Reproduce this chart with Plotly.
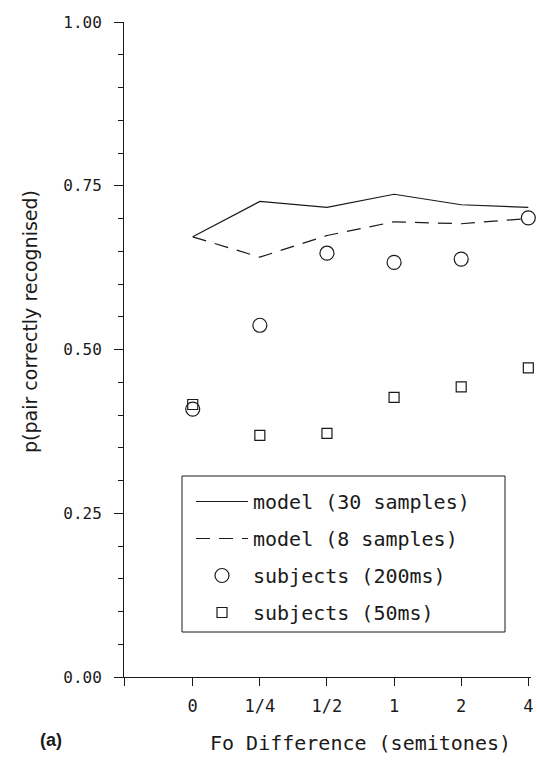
import plotly.graph_objects as go

categories = ["0", "1/4", "1/2", "1", "2", "4"]
model_30 = [0.672, 0.726, 0.717, 0.737, 0.721, 0.717]
model_8 = [0.672, 0.641, 0.674, 0.695, 0.692, 0.700]
subj_200 = [0.409, 0.537, 0.647, 0.633, 0.638, 0.701]
subj_50 = [0.416, 0.369, 0.372, 0.427, 0.443, 0.472]
yticks = [0.0, 0.25, 0.5, 0.75, 1.0]
ytick_labels = ["0.00", "0.25", "0.50", "0.75", "1.00"]

X_MIN, X_MAX = -1.024, 5.04
xpos = list(range(len(categories)))
FONT = "DejaVu Sans Mono"
TITLE_FONT = "DejaVu Sans"
INK = "#1a1a1a"

# plot-area geometry in pixels (figure coordinates)
L, R, T, B = 124, 6, 22, 98
W, H = 537, 775
PW, PH = W - L - R, H - T - B


def px(x):
    return (x - L) / PW


def py(y):
    return (H - B - y) / PH


fig = go.Figure()
fig.add_trace(go.Scatter(x=xpos, y=model_30, mode="lines", name="model (30 samples)",
                         line=dict(color=INK, width=1.2), legendgroup="a", cliponaxis=False))
fig.add_trace(go.Scatter(x=xpos, y=model_8, mode="lines", name="model (8 samples)",
                         line=dict(color=INK, width=1.2, dash="14px,9px"), legendgroup="b",
                         cliponaxis=False))
fig.add_trace(go.Scatter(x=xpos, y=subj_200, mode="markers", name="subjects (200ms)",
                         marker=dict(symbol="circle-open", size=14, color=INK, line=dict(width=1.2)),
                         legendgroup="c", cliponaxis=False))
fig.add_trace(go.Scatter(x=xpos, y=subj_50, mode="markers", name="subjects (50ms)",
                         marker=dict(symbol="square-open", size=10, color=INK, line=dict(width=1.2)),
                         legendgroup="d", cliponaxis=False))

fig.update_layout(
    width=W, height=H,
    margin=dict(l=L, r=R, t=T, b=B, autoexpand=False),
    plot_bgcolor="white", paper_bgcolor="white",
    font=dict(family=FONT, color=INK, size=17),
    legend=dict(x=px(191), y=py(482), xanchor="left", yanchor="top",
                borderwidth=0, bgcolor="rgba(0,0,0,0)",
                font=dict(family=FONT, size=20, color=INK),
                tracegroupgap=8, traceorder="grouped", itemwidth=52),
    xaxis=dict(range=[X_MIN, X_MAX], tickvals=[X_MIN] + xpos, ticktext=[""] + categories,
               showline=True, linecolor=INK, linewidth=1, ticks="outside", ticklen=8,
               tickcolor=INK, tickwidth=1, showgrid=False, zeroline=False,
               ticklabelstandoff=6, tickfont=dict(size=17)),
    yaxis=dict(range=[0, 1.0], tickvals=yticks, ticktext=ytick_labels,
               showline=True, linecolor=INK, linewidth=1, ticks="outside", ticklen=9,
               tickcolor=INK, tickwidth=1, showgrid=False, zeroline=False,
               ticklabelstandoff=9, tickfont=dict(size=16),
               minor=dict(dtick=0.05, ticks="outside", ticklen=5, tickcolor=INK, showgrid=False)),
    showlegend=True,
)

# legend frame
fig.add_shape(type="rect", xref="paper", yref="paper",
              x0=px(182), x1=px(505), y0=py(632), y1=py(476),
              line=dict(color=INK, width=1), fillcolor="rgba(0,0,0,0)")

fig.add_annotation(text="p(pair correctly recognised)", xref="paper", yref="paper",
                   x=px(30), y=py(322), textangle=-90,
                   showarrow=False, font=dict(family=TITLE_FONT, size=19, color=INK),
                   xanchor="center", yanchor="middle")
fig.add_annotation(text="Fo Difference (semitones)", xref="paper", yref="paper",
                   x=px(360), y=py(743),
                   showarrow=False, font=dict(family=FONT, size=20, color=INK),
                   xanchor="center", yanchor="middle")
fig.add_annotation(text="<b>(a)</b>", xref="paper", yref="paper",
                   x=px(51), y=py(740),
                   showarrow=False, font=dict(family="Liberation Sans", size=18, color=INK),
                   xanchor="center", yanchor="middle")

fig.write_html("out.html", config={"displayModeBar": False},
               post_script="document.body.style.margin='0';")
